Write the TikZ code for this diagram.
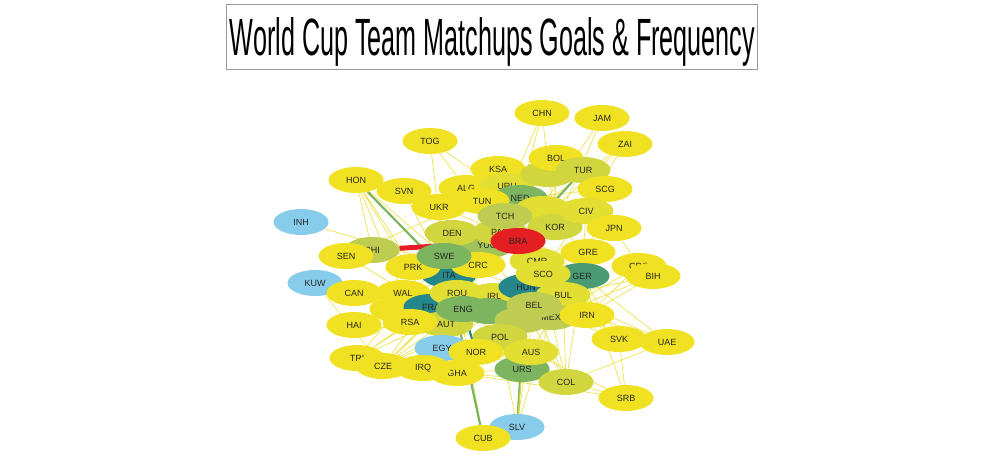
\documentclass[tikz,border=0pt]{standalone}
\usepackage{fontspec}
\setmainfont{Liberation Sans}
\usepackage{graphicx}
\usetikzlibrary{shapes.geometric}
\definecolor{cupyel}{RGB}{240,226,35}
\definecolor{cupyeg}{RGB}{226,222,50}
\definecolor{cupoly}{RGB}{210,214,62}
\definecolor{cupolv}{RGB}{190,205,82}
\definecolor{cupgol}{RGB}{160,195,90}
\definecolor{cupgrn}{RGB}{125,180,95}
\definecolor{cupgtl}{RGB}{72,155,115}
\definecolor{cupteal}{RGB}{35,135,140}
\definecolor{cupblu}{RGB}{135,205,235}
\definecolor{cupred}{RGB}{228,30,35}
\definecolor{cupline}{RGB}{238,226,80}
\pgfdeclarelayer{edges}
\pgfsetlayers{edges,main}

\begin{document}
\begin{tikzpicture}[x=1pt,y=-1pt,
  team/.style={ellipse,fill=#1,minimum width=55pt,minimum height=26pt,
    inner sep=0pt,text=black!85,font=\fontsize{9}{10}\selectfont},
  team/.default=cupyel,
  weak/.style={cupline,line width=0.7pt},
  heavy/.style={line width=2.2pt,#1},
  heavy/.default=cupgrn]
  \useasboundingbox (0,0) rectangle (984,456);
  % title
  \node[draw=black!40,minimum width=531pt,minimum height=65pt] (titlebox) at (491.5,36.5) {};
  \node[anchor=base,inner sep=0pt] (title) at (492.5,55)
    {\resizebox{525pt}{38pt}{World Cup Team Matchups Goals \& Frequency}};
  % outer teams, top
  \node[team] (CHN) at (542,113) {CHN};
  \node[team] (JAM) at (602,118) {JAM};
  \node[team] (ZAI) at (625,144) {ZAI};
  \node[team] (TOG) at (430,141) {TOG};
  \node[team] (HON) at (356,180) {HON};
  \node[team=cupblu] (INH) at (301,222) {INH};
  \node[team=cupblu] (KUW) at (315,283) {KUW};
  \node[team] (SVN) at (404,191) {SVN};
  \node[team] (ALG) at (466,188) {ALG};
  \node[team] (UKR) at (439,207) {UKR};
  \node[team] (KSA) at (498,169) {KSA};
  \node[team=cupyeg] (URU) at (507,186) {URU};
  \node[team=cupoly] (hidA) at (548,174) {};
  \node[team] (BOL) at (556,158) {BOL};
  \node[team=cupoly] (TUR) at (583,170) {TUR};
  \node[team] (SCG) at (605,189) {SCG};
  \node[team=cupgrn] (NED) at (520,198) {NED};
  \node[team] (TUN) at (482,201) {TUN};
  \node[team=cupyeg] (hidB) at (543,209) {};
  \node[team=cupoly] (KOR) at (555,227) {KOR};
  \node[team=cupyeg] (CIV) at (586,211) {CIV};
  \node[team] (JPN) at (614,228) {JPN};
  % centre
  \node[team=cupgol] (YUG) at (487,245) {YUG};
  \node[team=cupoly] (PAR) at (500,232) {PAR};
  \node[team=cupolv] (TCH) at (505,216) {TCH};
  \node[team=cupoly] (DEN) at (452,233) {DEN};
  \node[team=cupolv] (CHI) at (372,250) {CHI};
  \node[team=cupteal] (ITA) at (449,275) {ITA};
  \node[team] (PRK) at (413,267) {PRK};
  \node[team] (SEN) at (346,256) {SEN};
  \node[team=cupyeg] (CMR) at (537,261) {CMR};
  \node[team=cupred] (BRA) at (518,241) {BRA};
  \node[team] (CRC) at (478,265) {CRC};
  \node[team=cupgrn] (SWE) at (444,256) {SWE};
  \node[team] (GRE) at (588,252) {GRE};
  \node[team] (CRO) at (639,266) {CRO};
  \node[team] (BIH) at (653,276) {BIH};
  \node[team=cupgtl] (GER) at (582,276) {GER};
  \node[team=cupyeg] (IRL) at (494,296) {IRL};
  \node[team=cupteal] (HUN) at (526,287) {HUN};
  \node[team=cupyeg] (SCO) at (543,274) {SCO};
  \node[team=cupyeg] (BUL) at (563,295) {BUL};
  \node[team] (CAN) at (354,293) {CAN};
  \node[team] (hidC) at (397,309) {};
  \node[team] (WAL) at (403,293) {WAL};
  \node[team=cupteal] (FRA) at (431,307) {FRA};
  \node[team=cupyeg] (ROU) at (457,293) {ROU};
  \node[team=cupoly] (AUT) at (446,324) {AUT};
  \node[team=cupgrn] (hidD) at (489,311) {};
  \node[team=cupgrn] (ENG) at (463,309) {ENG};
  \node[team] (RSA) at (410,322) {RSA};
  \node[team] (HAI) at (354,325) {HAI};
  \node[team=cupolv] (hidE) at (522,320) {};
  \node[team=cupolv] (MEX) at (551,317) {MEX};
  \node[team=cupolv] (BEL) at (534,305) {BEL};
  \node[team] (IRN) at (587,315) {IRN};
  \node[team=cupoly] (POL) at (500,337) {POL};
  % outer teams, bottom
  \node[team=cupblu] (EGY) at (442,348) {EGY};
  \node[team] (GHA) at (457,373) {GHA};
  \node[team] (TRI) at (357,358) {TRI};
  \node[team] (CZE) at (383,366) {CZE};
  \node[team] (IRQ) at (423,368) {IRQ};
  \node[team=cupgrn] (URS) at (522,369) {URS};
  \node[team] (NOR) at (476,352) {NOR};
  \node[team=cupyeg] (AUS) at (531,352) {AUS};
  \node[team=cupoly] (COL) at (566,382) {COL};
  \node[team] (SVK) at (619,339) {SVK};
  \node[team] (UAE) at (667,342) {UAE};
  \node[team] (SRB) at (626,398) {SRB};
  \node[team=cupblu] (SLV) at (517,427) {SLV};
  \node[team] (CUB) at (483,438) {CUB};
  % matchups, drawn under the teams
  \begin{pgfonlayer}{edges}
  \draw[weak] (CHN) -- (NED) (CHN) -- (KOR) (CHN) -- (CRC) (JAM) -- (KOR) (JAM) -- (BRA)
    (ZAI) -- (SCO) (ZAI) -- (YUG) (ZAI) -- (BRA) (TOG) -- (SWE) (TOG) -- (KOR)
    (HON) -- (CHI) (HON) -- (PRK) (HON) -- (FRA) (HON) -- (WAL) (INH) -- (HUN)
    (SVN) -- (PAR) (SVN) -- (ENG) (UKR) -- (ITA) (UKR) -- (KSA) (ALG) -- (GER)
    (SEN) -- (FRA) (SEN) -- (URU) (KUW) -- (ENG) (KUW) -- (FRA) (KUW) -- (CZE)
    (CAN) -- (FRA) (CAN) -- (URS) (CAN) -- (HUN) (HAI) -- (ITA) (HAI) -- (POL)
    (HAI) -- (ROU) (TRI) -- (ENG) (TRI) -- (SWE) (CZE) -- (BRA) (CZE) -- (ITA)
    (CZE) -- (GER) (CZE) -- (HUN) (IRQ) -- (BEL) (IRQ) -- (PAR) (SLV) -- (BEL)
    (CUB) -- (ROU) (COL) -- (YUG) (COL) -- (GER) (COL) -- (ENG) (COL) -- (BEL)
    (COL) -- (MEX) (COL) -- (UAE) (COL) -- (SRB) (COL) -- (GHA) (SVK) -- (SRB)
    (SVK) -- (ITA) (SVK) -- (PAR) (UAE) -- (GER) (UAE) -- (IRN) (SRB) -- (GER)
    (SRB) -- (AUS) (BIH) -- (IRN) (BIH) -- (BUL) (CRO) -- (MEX) (CRO) -- (GRE)
    (JPN) -- (CRO) (SCG) -- (NED) (SCG) -- (GER) (BOL) -- (KOR) (BOL) -- (URU)
    (TOG) -- (ALG) (SVN) -- (DEN) (HON) -- (SWE)
    (TRI) -- (ROU) (TRI) -- (RSA) (CZE) -- (ENG) (CZE) -- (ROU) (IRQ) -- (AUT)
    (HAI) -- (FRA) (HAI) -- (WAL) (COL) -- (POL) (COL) -- (BUL) (COL) -- (HUN)
    (SVK) -- (GER) (SVK) -- (BUL) (UAE) -- (BUL) (SRB) -- (GHA) (CRO) -- (IRN)
    (BIH) -- (MEX) (URS) -- (BUL) (URS) -- (MEX) (SLV) -- (MEX) (SLV) -- (POL)
    (GHA) -- (URS) (NOR) -- (MEX) (GRE) -- (NED) (JPN) -- (BEL) (CIV) -- (GER);
  \draw[heavy] (HON) -- (ITA);
  \draw[heavy] (TUR) -- (BRA);
  \draw[heavy] (CUB) -- (SWE);
  \draw[heavy] (SLV) -- (HUN);
  \draw[heavy=cupoly,line width=1pt] (SLV) -- (URS);
  \draw[heavy=cupteal] (ENG) -- (NOR);
  \draw[cupred,line width=5pt] (CHI) -- (BRA);
  \end{pgfonlayer}
\end{tikzpicture}
\end{document}
